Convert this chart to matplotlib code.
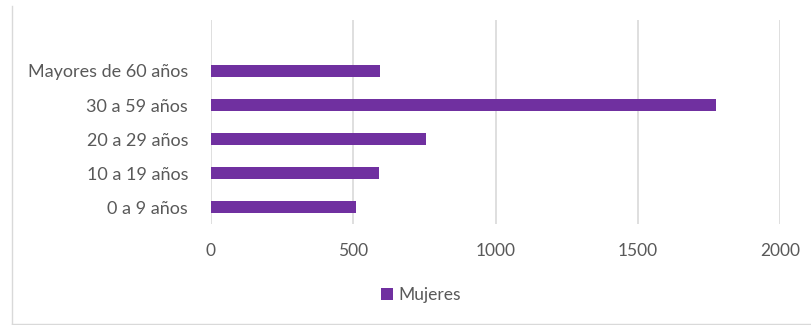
import matplotlib
matplotlib.use("Agg")
import matplotlib.pyplot as plt
from matplotlib.lines import Line2D

# Casos de mujeres por grupo de edad
grupos = ["0 a 9 años", "10 a 19 años", "20 a 29 años", "30 a 59 años", "Mayores de 60 años"]
mujeres = [511, 590, 757, 1775, 593]
ticks_x = [0, 500, 1000, 1500, 2000]

purple = "#7030A0"
gray_text = "#595959"
grid_color = "#d9d9d9"

plt.rcParams["font.family"] = ["Lato", "DejaVu Sans"]

fig = plt.figure(figsize=(8.11, 3.25), dpi=100)
ax = fig.add_axes([211 / 811, 1 - 224 / 325, (780 - 211) / 811, (224 - 20) / 325])

pos = list(range(len(grupos)))
ax.barh(pos, mujeres, height=0.35, color=purple, label="Mujeres", zorder=3)

ax.set_xlim(0, 2000)
ax.set_ylim(-0.5, 5.5)
ax.set_xticks(ticks_x)
ax.set_xticklabels([str(t) for t in ticks_x])
ax.set_yticks(pos)
ax.set_yticklabels(grupos)
ax.tick_params(axis="x", length=0, labelsize=12.5, colors=gray_text, pad=14)
ax.tick_params(axis="y", length=0, labelsize=13, colors=gray_text, pad=16.5)

ax.grid(axis="x", color=grid_color, linewidth=1.2, zorder=0)
for side in ["top", "right", "bottom", "left"]:
    ax.spines[side].set_visible(False)

leg = fig.legend(loc="center", bbox_to_anchor=(421 / 811, 1 - 295 / 325),
                 frameon=False, fontsize=12.5, handlelength=0.7, handleheight=0.7,
                 handletextpad=0.3)
for t in leg.get_texts():
    t.set_color(gray_text)

# marco exterior: solo borde izquierdo e inferior
fig.add_artist(Line2D([12 / 811, 12 / 811], [1 - 6 / 325, 1 - 324 / 325],
                      transform=fig.transFigure, color=grid_color, linewidth=1.0))
fig.add_artist(Line2D([12 / 811, 1.0], [1 - 324 / 325, 1 - 324 / 325],
                      transform=fig.transFigure, color=grid_color, linewidth=1.0))

fig.savefig("out.png", dpi=100)
